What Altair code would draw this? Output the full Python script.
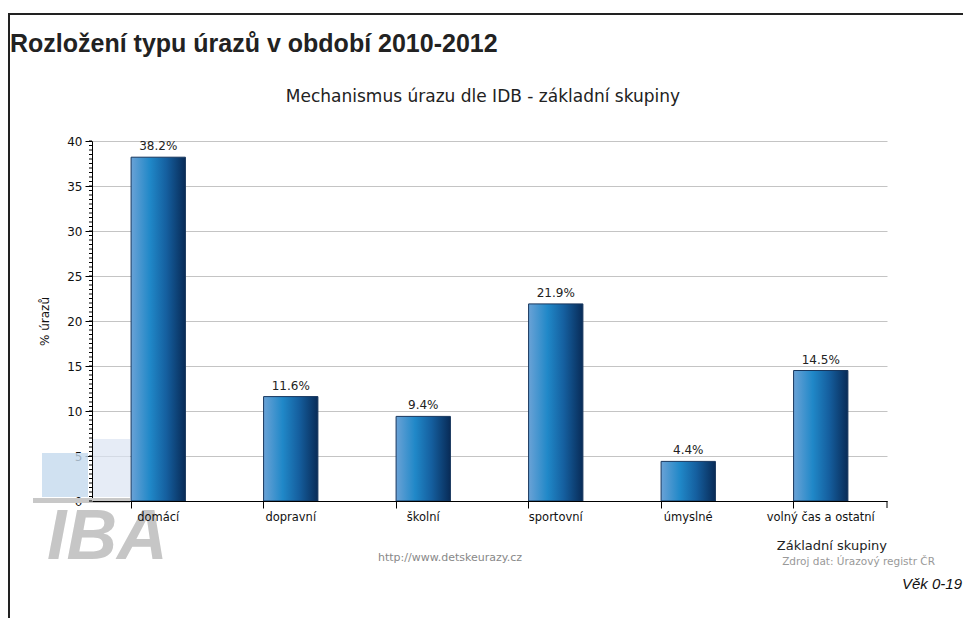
import altair as alt
import pandas as pd

# ---- data ----
categories = ["domácí", "dopravní", "školní", "sportovní", "úmyslné", "volný čas a ostatní"]
values = [38.2, 11.6, 9.4, 21.9, 4.4, 14.5]
value_labels = ["38.2%", "11.6%", "9.4%", "21.9%", "4.4%", "14.5%"]
y_major = [0, 5, 10, 15, 20, 25, 30, 35, 40]
y_minor = [i / 2 for i in range(0, 81)]

title_text = "Rozložení typu úrazů v období 2010-2012"
subtitle_text = "Mechanismus úrazu dle IDB - základní skupiny"
y_title = "% úrazů"
x_title = "Základní skupiny"
source_text = "Zdroj dat: Úrazový registr ČR"
url_text = "http://www.detskeurazy.cz"
age_text = "Věk 0-19"

W, H = 795, 360
FONT = "DejaVu Sans"

df = pd.DataFrame({"cat": categories, "val": values, "lab": value_labels})
minor_df = pd.DataFrame({"v": y_minor})

grad = alt.Gradient(
    gradient="linear",
    x1=0, x2=1, y1=0, y2=0,
    stops=[
        alt.GradientStop(color="#6aa2d6", offset=0),
        alt.GradientStop(color="#2088c8", offset=0.35),
        alt.GradientStop(color="#155f9f", offset=0.65),
        alt.GradientStop(color="#082b57", offset=1),
    ],
)

xscale = alt.Scale(domain=categories, paddingInner=0.59, paddingOuter=0.295)
yscale = alt.Scale(domain=[0, 40], nice=False)

x_enc = alt.X(
    "cat:N", sort=categories, scale=xscale,
    axis=alt.Axis(
        title=None, labelAngle=0, bandPosition=0, tickSize=7, labelPadding=3,
        domainColor="#000", tickColor="#000", labelColor="#111",
        labelFont=FONT, labelFontSize=11.5, grid=False, zindex=1,
    ),
)
y_enc = alt.Y(
    "val:Q", scale=yscale,
    axis=alt.Axis(
        values=y_major, title=y_title, titleFont=FONT, titleFontSize=12,
        titleFontWeight="normal", titleColor="#111", titlePadding=15,
        tickSize=7, labelPadding=3, labelFont=FONT, labelFontSize=12,
        labelColor="#111", domainColor="#000", tickColor="#000",
        grid=True, gridColor="#c4c4c4", gridWidth=1,
    ),
)


def txt(text, x, y, **kw):
    return alt.Chart(pd.DataFrame({"t": [text]})).mark_text(**kw).encode(
        x=alt.value(x), y=alt.value(y), text="t:N"
    )


def rect(x, x2, y, y2, **kw):
    return alt.Chart(pd.DataFrame({"a": [0]})).mark_rect(**kw).encode(
        x=alt.value(x), x2=alt.value(x2), y=alt.value(y), y2=alt.value(y2)
    )


# IBA watermark (decoration)
logo = [
    rect(-50, -4, 312, 356, color="#c4d9ee", opacity=0.8),
    rect(1, 38, 298, 356, color="#dbe4f2", opacity=0.7),
    rect(-59, 38, 357, 362, color="#c8c8c8"),
    txt("IBA", -45, 418, align="left", baseline="alphabetic", font="Liberation Sans",
        fontSize=70, fontWeight="bold", fontStyle="italic", color="#c6c6c6"),
]

bars = alt.Chart(df).mark_bar(color=grad, stroke="#17365d", strokeWidth=1).encode(
    x=x_enc, y=y_enc
)

labels = alt.Chart(df).mark_text(
    baseline="bottom", dy=-4, font=FONT, fontSize=12, color="#222"
).encode(x=alt.X("cat:N", sort=categories), y="val:Q", text="lab:N")

minor_ticks = alt.Chart(minor_df).mark_rule(color="#000", strokeWidth=1).encode(
    y="v:Q", x=alt.value(-3), x2=alt.value(0)
)

end_tick = alt.Chart(pd.DataFrame({"a": [0]})).mark_rule(color="#000").encode(
    x=alt.value(W), y=alt.value(H), y2=alt.value(H + 7)
)

border = [
    alt.Chart(pd.DataFrame({"a": [0]})).mark_rule(color="#222", strokeWidth=2).encode(
        x=alt.value(-84), x2=alt.value(880), y=alt.value(-127)
    ),
    alt.Chart(pd.DataFrame({"a": [0]})).mark_rule(color="#222", strokeWidth=2).encode(
        x=alt.value(-83), y=alt.value(-127), y2=alt.value(480)
    ),
]

texts = [
    txt(title_text, -82, -89, align="left", baseline="alphabetic", font="Liberation Sans",
        fontSize=25, fontWeight="bold", color="#222"),
    txt(subtitle_text, 391, -39, align="center", baseline="alphabetic", font=FONT,
        fontSize=17, color="#222"),
    txt(x_title, 795, 409, align="right", baseline="alphabetic", font=FONT,
        fontSize=13, color="#222"),
    txt(source_text, 843, 421, align="right", baseline="middle", font=FONT,
        fontSize=10.5, color="#999"),
    txt(url_text, 358, 417, align="center", baseline="middle", font=FONT,
        fontSize=11, color="#888"),
    txt(age_text, 870, 443, align="right", baseline="middle", font="Liberation Sans",
        fontSize=15, fontStyle="italic", color="#111"),
]

chart = alt.layer(
    *logo, bars, labels, minor_ticks, end_tick, *border, *texts
).properties(
    width=W, height=H,
    autosize=alt.AutoSizeParams(type="none"),
    padding={"left": 84, "top": 133, "right": 76, "bottom": 117},
    background="white",
).configure_view(stroke=None)

chart.save("out.html", embed_options={"renderer": "svg", "actions": False})
